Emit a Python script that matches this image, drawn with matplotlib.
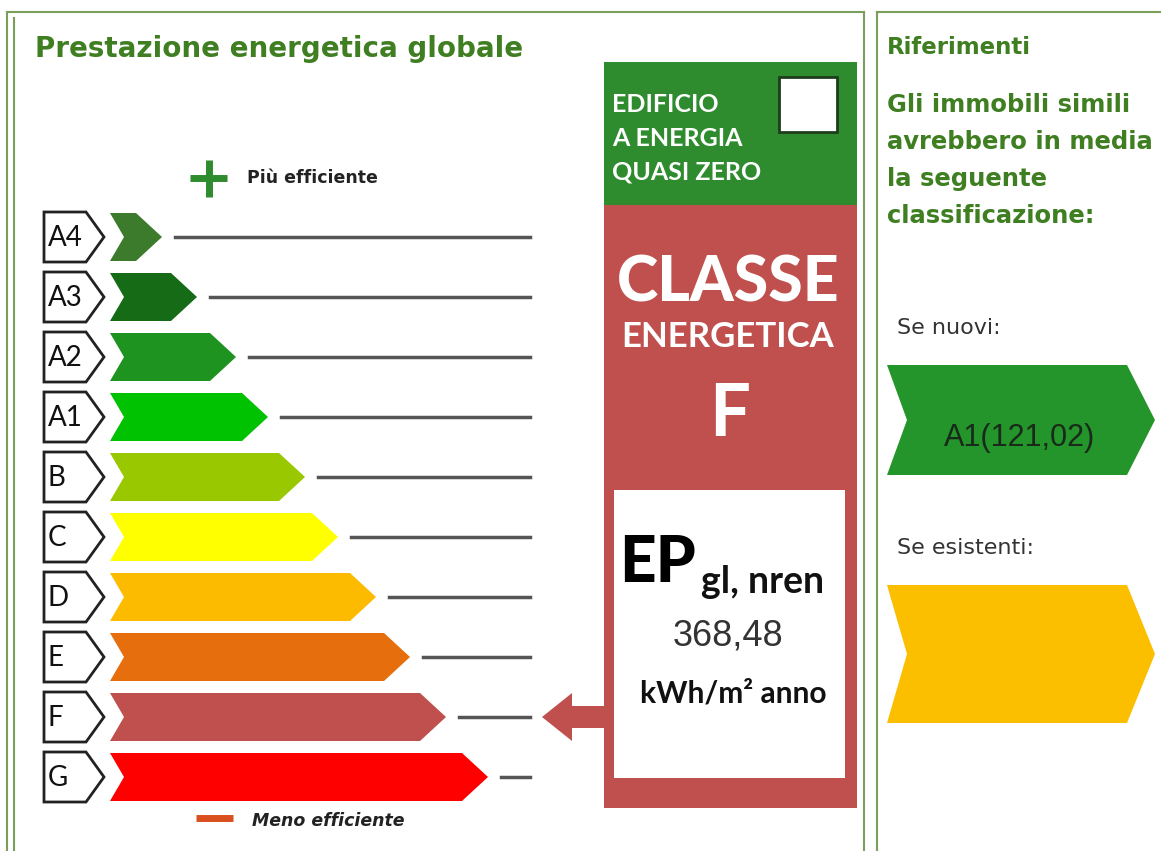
import matplotlib.pyplot as plt
from matplotlib.patches import Polygon, Rectangle

# energy classes, from best to worst
classes = ["A4", "A3", "A2", "A1", "B", "C", "D", "E", "F", "G"]
bar_lengths = [52, 87, 126, 158, 195, 228, 266, 300, 336, 378]
bar_colors = ["#3c7a2c", "#166b16", "#1f931f", "#00c200", "#99c800",
              "#ffff00", "#fdbb00", "#e66e0c", "#c0504d", "#ff0000"]
current_class = "F"
ep_value = "368,48"
ref_labels = ["Se nuovi:", "Se esistenti:"]
ref_values = ["A1(121,02)", ""]
ref_colors = ["#23952a", "#fbbf00"]

W, H = 1161, 851
fig = plt.figure(figsize=(W / 100, H / 100), dpi=100)
ax = fig.add_axes([0, 0, 1, 1])
ax.set_xlim(0, W)
ax.set_ylim(H, 0)
ax.axis("off")

frame = "#7a9e5c"
title_green = "#3f7f22"
red = "#c0504d"

# frames (double lines)
ax.plot([7, 7], [12, H], color=frame, lw=1.5)
ax.plot([14, 14], [18, H], color=frame, lw=1.5)
ax.plot([7, 864], [12, 12], color=frame, lw=1.5)
ax.plot([864, 864], [12, H], color=frame, lw=1.5)
ax.plot([877, 877], [12, H], color=frame, lw=1.5)
ax.plot([877, W], [12, 12], color=frame, lw=1.5)

# left panel
ax.text(35, 49, "Prestazione energetica globale", fontsize=20, fontweight="bold",
        color=title_green, va="center", ha="left", family="DejaVu Sans")
ax.plot([190, 227], [178, 178], color="#2e8b2e", lw=5, solid_capstyle="butt")
ax.plot([208.5, 208.5], [160, 197], color="#2e8b2e", lw=5, solid_capstyle="butt")
ax.text(247, 178, "Più efficiente", fontsize=12.5, fontweight="bold", color="#222",
        va="center", ha="left")
ax.plot([196, 233], [818, 818], color="#d9501e", lw=5, solid_capstyle="butt")
ax.text(252, 821, "Meno efficiente", fontsize=12.5, fontweight="bold", color="#222",
        va="center", ha="left", style="italic")

y0, step = 237, 60
x0 = 110
line_end = 530
for i, (cls, L, c) in enumerate(zip(classes, bar_lengths, bar_colors)):
    y = y0 + step * i
    hb = 25
    box = Polygon([(44, y - hb), (86, y - hb), (104, y), (86, y + hb), (44, y + hb)],
                  closed=True, facecolor="white", edgecolor="#222", lw=2)
    ax.add_patch(box)
    ax.text(48, y + 1, cls, fontsize=20, family="Lato", color="#111",
            va="center", ha="left")
    h, t, n = 24, 26, 14
    x1 = x0 + L
    bar = Polygon([(x0, y - h), (x1 - t, y - h), (x1, y), (x1 - t, y + h),
                   (x0, y + h), (x0 + n, y)], closed=True, facecolor=c, edgecolor="none")
    ax.add_patch(bar)
    ax.plot([x1 + 13, line_end], [y, y], color="#555555", lw=2.5)

# middle column
ax.add_patch(Rectangle((604, 62), 253, 143, facecolor="#2e8b2e", edgecolor="none"))
for j, line in enumerate(["EDIFICIO", "A ENERGIA", "QUASI ZERO"]):
    ax.text(612, 104 + 34 * j, line, fontsize=18, fontweight="bold", family="Lato",
            color="white", va="center", ha="left")
ax.add_patch(Rectangle((779, 77), 58, 55, facecolor="white", edgecolor="#1d3d1d", lw=2))

ax.add_patch(Rectangle((604, 205), 253, 603, facecolor=red, edgecolor="none"))
ax.text(728, 284, "CLASSE", fontsize=45, fontweight="black", family="Lato",
        color="white", va="center", ha="center")
ax.text(728, 337, "ENERGETICA", fontsize=25, fontweight="bold", family="Lato",
        color="white", va="center", ha="center")
ax.text(730, 416, current_class, fontsize=52, fontweight="bold", family="Lato",
        color="white", va="center", ha="center")
ax.add_patch(Rectangle((614, 490), 231, 288, facecolor="white", edgecolor="none"))
ep = ax.text(619, 582, "EP", fontsize=46, fontweight="black", family="Lato",
             color="black", va="baseline", ha="left")
ax.annotate("gl, nren", xycoords=ep, xy=(1, 0), xytext=(5, 0), textcoords="offset pixels",
            fontsize=27, fontweight="bold", family="Lato", color="#111",
            va="baseline", ha="left")
ax.text(728, 636, ep_value, fontsize=26, family="Liberation Sans",
        color="#333", va="center", ha="center")
ax.text(733, 694, "kWh/m² anno", fontsize=21.5, fontweight="bold", family="Lato",
        color="#111", va="center", ha="center")

# arrow pointing to current class
yc = y0 + step * classes.index(current_class)
ax.add_patch(Polygon([(614, yc - 11), (572, yc - 11), (572, yc - 24), (542, yc),
                      (572, yc + 24), (572, yc + 11), (614, yc + 11)],
                     closed=True, facecolor=red, edgecolor="none"))

# right panel
ax.text(887, 47, "Riferimenti", fontsize=16.5, fontweight="bold", color=title_green,
        va="center", ha="left")
for j, line in enumerate(["Gli immobili simili", "avrebbero in media", "la seguente",
                          "classificazione:"]):
    ax.text(887, 105 + 37 * j, line, fontsize=17.5, fontweight="bold", color=title_green,
            va="center", ha="left")

ref_tops = [365, 585]
ref_heights = [110, 138]
for lab, val, c, top, hh in zip(ref_labels, ref_values, ref_colors, ref_tops, ref_heights):
    yc = top + hh / 2
    ax.text(897, top - 37, lab, fontsize=16, color="#333", va="center", ha="left")
    ax.add_patch(Polygon([(887, top), (1127, top), (1155, yc), (1127, top + hh),
                          (887, top + hh), (907, yc)], closed=True,
                         facecolor=c, edgecolor="none"))
    if val:
        ax.text(1020, yc + 18, val, fontsize=22, family="Liberation Sans",
                color="#1a2a1a", va="center", ha="center")

fig.savefig("out.png", dpi=100)
